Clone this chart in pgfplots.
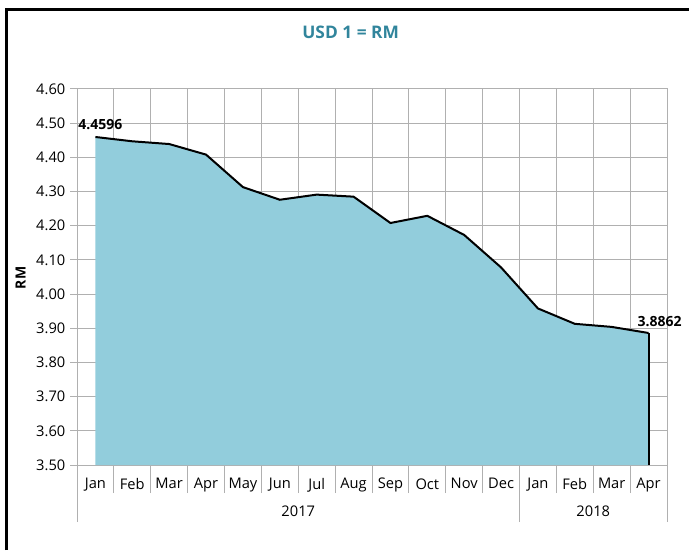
\documentclass[border=0pt]{standalone}
\usepackage{fontspec}
\setmainfont{Open Sans}
\usepackage{pgfplots}
\usepackage{pgfplotstable}
\pgfplotsset{compat=1.18}

\definecolor{areablue}{HTML}{92CDDC}
\definecolor{titleteal}{HTML}{31859C}
\definecolor{gridgray}{HTML}{B0B0B0}

% monthly USD/MYR, Jan 2017 - Apr 2018
\pgfplotstableread{
x y
0 4.4596
1 4.447
2 4.439
3 4.408
4 4.313
5 4.276
6 4.291
7 4.285
8 4.208
9 4.229
10 4.173
11 4.078
12 3.958
13 3.913
14 3.904
15 3.8862
}\usdrm

\begin{document}
\begin{tikzpicture}
\useasboundingbox (0,0) rectangle (516.75pt,412.5pt);
% frame
\draw[line width=2.25pt] (4.9pt,0) -- (4.9pt,405.4pt) -- (516.75pt,405.4pt);
\node[font=\bfseries\fontsize{13}{15}\selectfont, text=titleteal] at (263pt,388.5pt) {USD 1 = RM};
\node[font=\bfseries\fontsize{10.5}{12}\selectfont, rotate=90] at (15.5pt,204pt) {RM};

\begin{axis}[
  at={(57.75pt,63.75pt)},
  anchor=south west,
  scale only axis,
  width=442.5pt,
  height=282pt,
  xmin=-0.5, xmax=15.5,
  ymin=3.5, ymax=4.6,
  ytick={3.5,3.6,...,4.61},
  xtick={0,...,15},
  xticklabels={Jan,Feb,Mar,Apr,May,Jun,Jul,Aug,Sep,Oct,Nov,Dec,Jan,Feb,Mar,Apr},
  minor xtick={-0.5,0.5,...,15.6},
  xminorgrids=true,
  ymajorgrids=true,
  tick pos=left,
  tick align=outside,
  major tick length=5.25pt,
  minor tick length=21pt,
  major x tick style={draw=none},
  minor x tick style={draw=gridgray, line width=0.75pt},
  y tick style={draw=gridgray, line width=0.75pt},
  grid style={draw=gridgray, line width=0.75pt},
  minor grid style={draw=gridgray, line width=0.75pt},
  axis line style={draw=gridgray, line width=0.75pt},
  /pgf/number format/assume math mode=true,
  yticklabel style={/pgf/number format/.cd, fixed, fixed zerofill, precision=2},
  ticklabel style={font=\fontsize{11}{13}\selectfont},
  xticklabel style={yshift=-1.25pt},
  clip=false,
]
\addplot[fill=areablue, draw=none] table {\usdrm} \closedcycle;
\addplot[black, line width=1.5pt] table {\usdrm};
\addplot[black, line width=1.5pt] coordinates {(15,3.8862) (15,3.5)};
% data labels on first and last points
\addplot[draw=none, nodes near coords, point meta=explicit symbolic,
  every node near coord/.append style={font=\bfseries\fontsize{10.5}{12}\selectfont, anchor=south, xshift=3.75pt, yshift=2pt}]
  coordinates {(0,4.4596) [4.4596]};
\addplot[draw=none, nodes near coords, point meta=explicit symbolic,
  every node near coord/.append style={font=\bfseries\fontsize{10.5}{12}\selectfont, anchor=south, xshift=8.25pt, yshift=1.5pt}]
  coordinates {(15,3.8862) [3.8862]};
% year groups
\draw[gridgray, line width=0.75pt] ([yshift=-42.75pt]axis cs:-0.5,3.5) -- (axis cs:-0.5,3.5);
\draw[gridgray, line width=0.75pt] ([yshift=-42.75pt]axis cs:11.5,3.5) -- (axis cs:11.5,3.5);
\draw[gridgray, line width=0.75pt] ([yshift=-42.75pt]axis cs:15.5,3.5) -- (axis cs:15.5,3.5);
\node[font=\fontsize{11}{13}\selectfont] at ([yshift=-35pt]axis cs:5.5,3.5) {2017};
\node[font=\fontsize{11}{13}\selectfont] at ([yshift=-35pt]axis cs:13.5,3.5) {2018};
\end{axis}
\end{tikzpicture}
\end{document}
